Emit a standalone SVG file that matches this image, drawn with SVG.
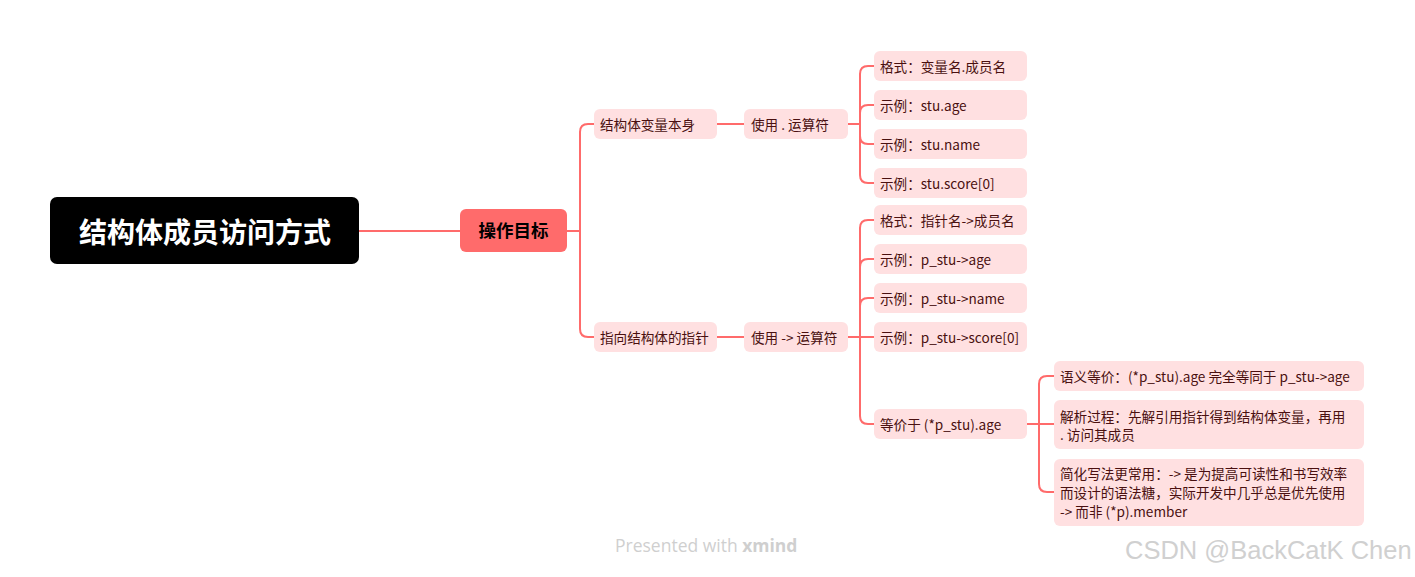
<svg xmlns="http://www.w3.org/2000/svg" width="1415" height="577" viewBox="0 0 1415 577">
<style>
.t{font-family:"Noto Sans CJK SC","Noto Sans",sans-serif;font-size:13.6px;fill:#4a1010}
.n{fill:#FFE0E1}
.c{fill:none;stroke:#FF6B6B;stroke-width:2}
</style>
<rect width="1415" height="577" fill="#fff"/>
<g id="connectors">
<path class="c" d="M359 231 H460"/>
<path class="c" d="M567 231 H580"/>
<path class="c" d="M594 124 H588 Q580 124 580 132 V329 Q580 337 588 337 H594"/>
<path class="c" d="M717 124 H744"/>
<path class="c" d="M717 337 H744"/>
<path class="c" d="M848 124 H860"/>
<path class="c" d="M874 66 H868 Q860 66 860 74 V175 Q860 183 868 183 H874"/>
<path class="c" d="M860 113 Q860 105 868 105 H874"/>
<path class="c" d="M860 136 Q860 144 868 144 H874"/>
<path class="c" d="M848 337 H874"/>
<path class="c" d="M874 220 H868 Q860 220 860 228 V416 Q860 424 868 424 H874"/>
<path class="c" d="M860 267 Q860 259 868 259 H874"/>
<path class="c" d="M860 306 Q860 298 868 298 H874"/>
<path class="c" d="M1027 424 H1054"/>
<path class="c" d="M1054 376 H1047 Q1039 376 1039 384 V484 Q1039 492 1047 492 H1054"/>
</g>
<g id="root">
<rect x="50" y="197" width="309" height="67" rx="7" fill="#000"/>
<text x="205" y="243" text-anchor="middle" style="font-family:'Noto Sans CJK SC',sans-serif;font-size:28px;font-weight:bold;fill:#fff">结构体成员访问方式</text>
</g>
<g id="main">
<rect x="460" y="209" width="107" height="43" rx="6" fill="#FF6B6B"/>
<text x="513.5" y="237" text-anchor="middle" style="font-family:'Noto Sans CJK SC',sans-serif;font-size:17.5px;font-weight:bold;fill:#000">操作目标</text>
</g>
<g id="n-var">
<rect class="n" x="594" y="109" width="123" height="30" rx="6"/>
<text class="t" x="600" y="129.5">结构体变量本身</text>
</g>
<g id="n-dot">
<rect class="n" x="744" y="109" width="104" height="30" rx="6"/>
<text class="t" x="751" y="129.5">使用 . 运算符</text>
</g>
<g id="n-dot-1">
<rect class="n" x="874" y="51" width="153" height="30" rx="6"/>
<text class="t" x="880" y="71.5">格式：变量名.成员名</text>
</g>
<g id="n-dot-2">
<rect class="n" x="874" y="90" width="153" height="30" rx="6"/>
<text class="t" x="880" y="110.5">示例：stu.age</text>
</g>
<g id="n-dot-3">
<rect class="n" x="874" y="129" width="153" height="30" rx="6"/>
<text class="t" x="880" y="149.5">示例：stu.name</text>
</g>
<g id="n-dot-4">
<rect class="n" x="874" y="168" width="153" height="30" rx="6"/>
<text class="t" x="880" y="188.5">示例：stu.score[0]</text>
</g>
<g id="n-ptr">
<rect class="n" x="594" y="322" width="123" height="30" rx="6"/>
<text class="t" x="600" y="342.5">指向结构体的指针</text>
</g>
<g id="n-arrow">
<rect class="n" x="744" y="322" width="104" height="30" rx="6"/>
<text class="t" x="751" y="342.5">使用 -&gt; 运算符</text>
</g>
<g id="n-arrow-1">
<rect class="n" x="874" y="205" width="153" height="30" rx="6"/>
<text class="t" x="880" y="225.5">格式：指针名-&gt;成员名</text>
</g>
<g id="n-arrow-2">
<rect class="n" x="874" y="244" width="153" height="30" rx="6"/>
<text class="t" x="880" y="264.5">示例：p_stu-&gt;age</text>
</g>
<g id="n-arrow-3">
<rect class="n" x="874" y="283" width="153" height="30" rx="6"/>
<text class="t" x="880" y="303.5">示例：p_stu-&gt;name</text>
</g>
<g id="n-arrow-4">
<rect class="n" x="874" y="322" width="153" height="30" rx="6"/>
<text class="t" x="880" y="342.5">示例：p_stu-&gt;score[0]</text>
</g>
<g id="n-equiv">
<rect class="n" x="874" y="409" width="153" height="30" rx="6"/>
<text class="t" x="880" y="429.5">等价于 (*p_stu).age</text>
</g>
<g id="n-equiv-1">
<rect class="n" x="1054" y="361" width="310" height="30" rx="6"/>
<text class="t" x="1060" y="381.5">语义等价：(*p_stu).age 完全等同于 p_stu-&gt;age</text>
</g>
<g id="n-equiv-2">
<rect class="n" x="1054" y="400" width="310" height="49" rx="6"/>
<text class="t" x="1060" y="421.5">解析过程：先解引用指针得到结构体变量，再用</text>
<text class="t" x="1060" y="440">. 访问其成员</text>
</g>
<g id="n-equiv-3">
<rect class="n" x="1054" y="459" width="310" height="67" rx="6"/>
<text class="t" x="1060" y="479">简化写法更常用：-&gt; 是为提高可读性和书写效率</text>
<text class="t" x="1060" y="498">而设计的语法糖，实际开发中几乎总是优先使用</text>
<text class="t" x="1060" y="517">-&gt; 而非 (*p).member</text>
</g>
<text x="615" y="552" style="font-family:'Open Sans',sans-serif;font-size:17.5px;fill:#cfcfcf">Presented with <tspan font-weight="bold">xmind</tspan></text>
<text x="1125" y="559" style="font-family:'Liberation Sans',sans-serif;font-size:25.5px;fill:#d0d0d0">CSDN @BackCatK Chen</text>
</svg>
